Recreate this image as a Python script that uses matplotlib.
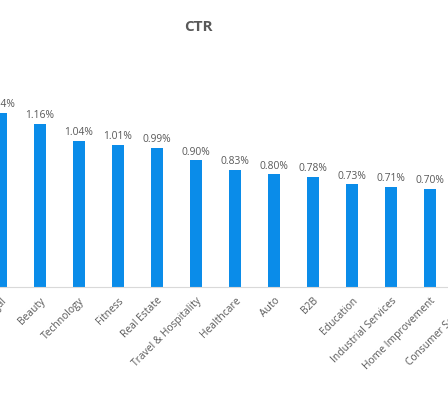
import matplotlib
matplotlib.use("Agg")
import matplotlib.pyplot as plt

categories = ["Legal", "Beauty", "Technology", "Fitness", "Real Estate",
              "Travel & Hospitality", "Healthcare", "Auto", "B2B", "Education",
              "Industrial Services", "Home Improvement", "Consumer Services"]
ctr = [1.24, 1.16, 1.04, 1.01, 0.99, 0.90, 0.83, 0.80, 0.78, 0.73, 0.71, 0.70, 0.68]

plt.rcParams['font.family'] = ['Open Sans', 'DejaVu Sans']
grey = '#595959'
blue = '#0a8ce9'

# one category step = 39 px; the axes run past the right edge of the figure
# so the picture is cropped like the reference
step = 39
lo, hi = -1/step, len(categories)
fig = plt.figure(figsize=(4.48, 3.93), dpi=100)
ax = fig.add_axes([0, 106/393, (hi - lo)*step/448, 197/393])

x = list(range(len(categories)))
ax.bar(x, ctr, width=0.31, color=blue, zorder=2)
for xi, v in zip(x, ctr):
    ax.annotate(f"{v:.2f}%", (xi, v), xytext=(0, 2), textcoords='offset points',
                ha='center', va='bottom', fontsize=7.4, color=grey)

ax.set_xticks(x)
ax.set_xticklabels(categories, rotation=45, ha='right', rotation_mode='anchor',
                   fontsize=7.4, color=grey)
ax.set_xlim(lo, hi)
ax.set_ylim(0, 1.4)
ax.tick_params(axis='x', length=0, pad=6)
ax.set_yticks([])
for s in ['top', 'left', 'right']:
    ax.spines[s].set_visible(False)
ax.spines['bottom'].set_color('#d9d9d9')

fig.text(198/448, 1 - 27/393, "CTR", ha='center', va='center', fontsize=11,
         fontweight='bold', color=grey)

fig.savefig("out.png", dpi=100)
